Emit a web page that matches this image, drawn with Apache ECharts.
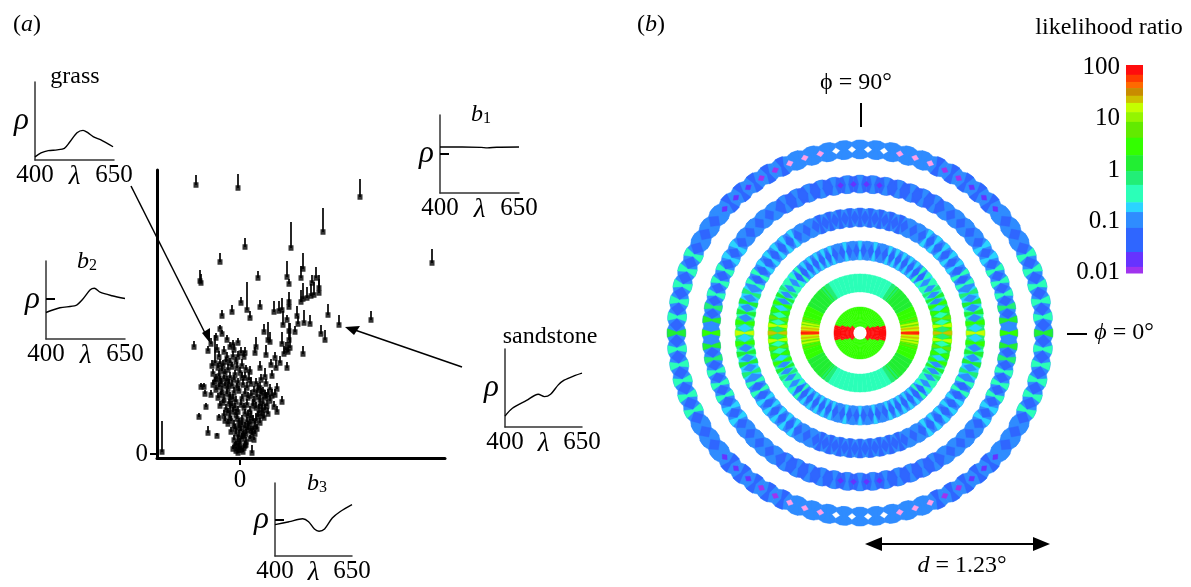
<!DOCTYPE html>
<html><head><meta charset="utf-8">
<style>html,body{margin:0;padding:0;background:#fff}#c{width:1191px;height:587px}</style>
<script src="https://cdn.jsdelivr.net/npm/echarts@6/dist/echarts.min.js"></script>
</head><body><div id="c"></div>
<script>
// ---- panel (a): [b3, b1, stem length] ----
const pointsUpper = [[-44,269,10],[-2,266,14],[120,257,18],[83,222,24],[51,206,26],[5,207,9],[-20,192,9],[192,191,14],[-40,173,11],[-39,171,9],[18,176,7],[47,177,16],[49,170,5],[61,176,12],[63,185,16],[76,176,11],[72,171,8],[79,166,13],[79,161,14],[74,159,13],[71,158,12],[67,156,11],[61,152,12],[63,155,16],[49,152,10],[49,147,8],[42,144,12],[39,143,10],[34,142,11],[7,144,28],[10,136,7],[1,151,6],[-8,142,7],[-18,138,6],[20,147,7],[88,139,11],[99,129,10],[131,134,9],[70,130,9],[64,131,13],[57,138,10],[58,130,8],[47,134,5],[43,129,14],[55,122,6],[24,122,8],[49,123,8],[28,114,18],[30,112,10],[81,120,9],[85,114,10],[49,114,10],[42,110,12],[50,106,25],[48,102,10],[46,104,8],[44,100,8],[16,107,10],[63,100,8],[26,99,10],[15,101,6],[35,96,6]];
const pointsMiddle = [[47,86,6],[36,86,8],[40,91,7],[31,89,6],[32,78,6],[25,77,9],[20,86,7],[10,82,6],[9,74,8],[21,74,6],[-46,107,6],[-29,110,6],[-20,125,4],[-18,120,4],[-24,116,5],[-13,114,5],[-7,109,5],[-10,107,5],[-2,111,5],[-32,103,5],[-23,104,6],[-16,102,6],[-6,104,6],[1,101,6],[5,101,6],[-21,97,6],[-13,96,6],[-7,97,6],[-2,97,6],[4,97,6],[-28,88,6],[-22,86,5],[-17,88,6],[-12,84,6],[-8,87,5],[-3,86,6],[2,88,7],[6,84,5],[-25,91,28],[-27,80,5],[-21,78,6],[-15,80,5],[-10,76,6],[-5,79,5],[0,81,6],[5,76,6],[-18,83,5],[-24,75,5],[-25,72,5],[-19,70,6],[-13,73,5],[-8,68,6],[-2,71,5],[3,69,6],[-16,75,4],[-6,74,5],[-24,64,5],[-18,62,6],[-12,65,5],[-6,61,6],[-1,63,5],[7,66,6],[14,62,6],[20,66,6],[26,70,5],[30,64,6],[-21,67,4],[-15,68,4],[11,70,7],[16,70,6],[23,62,5],[28,59,6],[-39,67,4],[-36,67,4],[-35,60,4],[-29,59,5],[-27,69,5],[37,65,6],[35,59,6],[42,52,6],[34,47,6],[37,42,6],[-20,90,5],[-10,91,5],[-4,92,5],[-14,92,5],[-20,73,5],[-11,70,5],[-3,66,5],[2,76,6],[26,56,6],[32,58,7],[21,60,6],[18,64,7]];
const pointsLower = [[-22,56,5],[-16,54,6],[-10,57,5],[-4,52,6],[2,55,5],[8,56,6],[14,52,6],[20,54,5],[25,58,6],[30,53,6],[-19,59,4],[-13,60,5],[-7,55,5],[5,60,6],[11,58,6],[17,57,7],[23,50,7],[-34,47,4],[-41,37,4],[-32,21,7],[-23,18,3],[-21,36,4],[-20,48,5],[-14,44,6],[-8,48,5],[-2,42,6],[4,46,5],[10,42,6],[16,46,6],[22,44,6],[27,48,6],[-17,51,4],[-11,50,5],[-5,46,5],[1,49,6],[7,49,6],[13,48,7],[19,41,9],[-16,38,6],[-10,36,24],[-4,39,6],[2,34,5],[8,38,6],[13,33,6],[18,37,6],[24,36,6],[-12,41,5],[-7,42,5],[5,40,5],[11,36,7],[-12,30,5],[-6,28,6],[-1,31,5],[5,26,6],[10,30,5],[15,27,6],[20,31,5],[-9,33,5],[2,29,5],[7,32,5],[13,24,4],[-9,22,5],[-4,20,6],[1,23,5],[6,20,5],[11,23,5],[15,20,4],[17,25,5],[-5,25,5],[3,18,5],[8,24,5],[-6,14,5],[-2,12,7],[2,15,6],[6,12,5],[10,15,4],[14,14,3],[-1,17,7],[4,18,6],[0,10,6],[-7,5,4],[-4,3,4],[-1,7,4],[1,4,4],[4,6,4],[6,9,3],[-5,8,4],[-2,1,4],[3,2,4],[-4,9,4],[-1,4,4],[12,1,8],[5,8,5],[-78,2,31],[-15,33,5],[-3,35,5],[8,28,5],[12,19,5],[-1,26,5],[22,38,6],[25,44,6],[28,40,6],[16,33,8],[20,48,7]];
const curveGrass = [[400,.04],[419,.09],[442,.12],[470,.13],[493,.15],[510,.23],[533,.35],[552,.38],[567,.35],[584,.30],[607,.26],[647,.17]];
const curveB1 = [[400,.59],[470,.59],[530,.585],[550,.578],[580,.587],[650,.59]];
const curveB2 = [[400,.34],[444,.40],[495,.43],[514,.50],[540,.63],[553,.65],[571,.60],[609,.555],[650,.52]];
const curveSand = [[400,.14],[424,.24],[470,.34],[508,.42],[528,.39],[548,.42],[573,.54],[592,.60],[624,.655],[650,.69]];
const curveB3 = [[400,.43],[446,.47],[490,.51],[509,.47],[528,.37],[543,.34],[561,.37],[586,.52],[612,.61],[650,.705]];
const meanB1 = .5, meanB2 = .51, meanB3 = .49;
const xTicks = [400,650];

// ---- panel (b): log10 likelihood ratio per ring, 0..90 deg at 5 deg steps ----
const ringInner = [.022,.035,.048,.064,.131,.233,.338,.446,.555];
const ringOuter = [.035,.048,.064,.083,.188,.293,.398,.503,.615];
const ringScallop = [0,0,0,0,0,.001,.003,.005,.007];
const ring0aBase = [1.95,1.95,1.95,1.95,1.95,1.95,1.95,1.95,1.95,.45,.45,.45,.45,.45,.45,.45,.45,.45,.45];
const ring0bBase = [1.95,1.95,1.95,1.95,1.95,1.95,.45,.45,.45,.45,.4,.4,.45,.45,.45,.45,.45,.45,.45];
const ring0cBase = [1.95,1.95,1.95,1.95,1.95,.45,.45,.45,.4,.4,.4,.4,.45,.45,.45,.45,.45,.45,.45];
const ring0dBase = [1.95,1.95,1.95,1.95,.45,.45,.4,.4,.4,.35,.35,.35,.4,.4,.45,.45,.45,.45,.45];
const ring1Base = [1.7,1.2,.8,.6,.4,.3,.2,.15,.15,.1,0,-.1,-.3,-.4,-.45,-.45,-.45,-.45,-.45];
const ring1Stripe = [1.9,1.4,1.2,.8,.5,.4,.2,.1,.1,0,-.1,-.2,-.35,-.45,-.45,-.45,-.45,-.45,-.45];
const ring2Base = [.7,.4,.2,.1,-.1,-.3,-.45,-.5,-.7,-.9,-.9,-.9,-.95,-1,-1,-1,-1,-1,-1];
const ring2Stripe = [1.4,1.2,.8,.5,.3,.1,-.1,-.3,-.45,-.45,-.7,-.7,-.7,-.7,-.7,-.9,-.7,-.9,-.7];
const ring2Diamond = [-.2,-.3,-.45,-.7,-.9,-.9,-1,-1,-1.35,-1.35,-1.35,-1.35,-1.35,-1.35,-1.35,-1.35,-1.35,-1.35];
const ring3Base = [-.1,-.2,-.45,-.7,-.7,-.9,-1,-1,-1,-1,-1,-1,-1,-1,-1,-1,-1,-1,-1];
const ring3Stripe = [1.2,.5,.2,0,-.2,-.45,-.45,-.7,-.7,-.7,-.75,-.75,-.9,-.9,-1.3,-1.3,-1.3,-1.3,-1.3];
const ring3Diamond = [-.7,-.9,-1,-1,-1,-1.35,-1.35,-1.35,-1.35,-1.35,-1.35,-1.35,-1.35,-1.35,-1.35,-1.35,-1.35,-1.35];
const ring4Base = [-.9,-.9,-.9,-1,-1,-1,-1,-1,-1,-1,-1,-1,-1.2,-1.2,-1.2,-1.2,-1.2,-1.2,-1.2];
const ring4Stripe = [.6,.15,-.15,-.45,-.45,-.45,-.7,-.7,-.9,-.9,-1,-1,-1,-1,-.9,-.9,-.9,-.9,-.9];
const ring4Diamond = [-1,-1.35,-1.35,-1.35,-1.35,-1.35,-1.35,-1.35,-1.35,-1.35,-1.35,-1.35,-1.35,-1.35,-1.35,-1.5,-1.7,-1.7];
const ring5Base = [-1,-1,-1,-1,-1,-1,-1,-1,-1,-1,-1,-1,-1,-1,-1,-1,-1,-1,-1];
const ring5Stripe = [.15,-.3,-.45,-.45,-.45,-.5,-.9,-.9,-.9,-1.3,-1.3,-1.3,-1.3,-1.3,-.9,-.9,-.9,-.9,-.9];
const ring5Diamond = [-1.35,-1.35,-1.35,-1.35,-1.35,-1.35,-1.35,-1.35,-1.75,-1.75,-1.75,-1.95,-1.95,-2.3,-2.3,-2.3,-2.6,-2.6];
const ringBase = [ring0aBase,ring0bBase,ring0cBase,ring0dBase,ring1Base,ring2Base,ring3Base,ring4Base,ring5Base];
const ringStripe = [null,null,null,null,ring1Stripe,ring2Stripe,ring3Stripe,ring4Stripe,ring5Stripe];
const ringDiamond = [null,null,null,null,null,ring2Diamond,ring3Diamond,ring4Diamond,ring5Diamond];

// ---- colour bar: band upper edge, lower edge, colour (log10) ----
const bandTop = [2.05,1.86,1.72,1.6,1.45,1.31,1.13,.94,.63,.29,-.02,-.29,-.63,-.82,-1.13,-1.6,-1.89];
const bandBottom = [1.86,1.72,1.6,1.45,1.31,1.13,.94,.63,.29,-.02,-.29,-.63,-.82,-1.13,-1.6,-1.89,-2.01];
const bandColor = ['#ff0d0d','#ff3c00','#ff6a00','#c98c00','#cfc000','#c4ff00','#94f500','#62ea00','#33ff00','#22ee33','#22ee77','#2bffb8','#2bd4ff','#2f8cff','#2f66ff','#6633ff','#a033ee'];
const barTicks = [-2,-1,0,1,2];
const barTickLabels = ['0.01','0.1','1','10','100'];

const SERIF = '"Liberation Serif","Times New Roman",serif';
const LBL = 25, TXT = 24;
const black = '#000';

const insets = [
  {l:35,t:82,w:79,h:78,curve:curveGrass,mean:null},
  {l:440,t:115,w:79,h:78,curve:curveB1,mean:meanB1},
  {l:46,t:261,w:79,h:78,curve:curveB2,mean:meanB2},
  {l:505,t:349,w:77,h:78,curve:curveSand,mean:null},
  {l:275,t:483,w:77,h:78,curve:curveB3,mean:meanB3}
];
const grid=[{left:157,top:170,width:288,height:288},{left:1126,top:65,width:17,height:208}];
const xAxis=[
 {gridIndex:0,type:'value',min:-83,max:205,position:'bottom',splitLine:{show:false},
  axisLine:{onZero:false,lineStyle:{color:black,width:3}},
  axisTick:{customValues:[0],length:7,lineStyle:{color:black,width:2}},
  axisLabel:{customValues:[0],color:black,fontFamily:SERIF,fontSize:LBL,margin:10}},
 {gridIndex:1,type:'value',min:0,max:1,show:false}
];
const yAxis=[
 {gridIndex:0,type:'value',min:-4,max:284,position:'left',splitLine:{show:false},
  axisLine:{onZero:false,lineStyle:{color:black,width:3}},
  axisTick:{customValues:[0],length:7,lineStyle:{color:black,width:2}},
  axisLabel:{customValues:[0],color:black,fontFamily:SERIF,fontSize:LBL,margin:9}},
 {gridIndex:1,type:'value',min:-2.01,max:2.05,splitLine:{show:false},axisLine:{show:false},axisTick:{show:false},
  axisLabel:{customValues:barTicks,formatter:v=>barTickLabels[barTicks.indexOf(v)],color:black,fontFamily:SERIF,fontSize:LBL,margin:6}}
];
const allPoints = pointsUpper.concat(pointsMiddle,pointsLower);
const series=[
 {type:'custom',xAxisIndex:0,yAxisIndex:0,data:allPoints,clip:false,silent:true,encode:{x:0,y:1},
  renderItem:(p,api)=>{const a=api.coord([api.value(0),api.value(1)]),b=api.coord([api.value(0),api.value(1)+api.value(2)]);
    return {type:'line',shape:{x1:a[0],y1:a[1],x2:b[0],y2:b[1]},style:{stroke:black,lineWidth:1.7}};}},
 {type:'scatter',xAxisIndex:0,yAxisIndex:0,data:allPoints,symbol:'rect',symbolSize:[5,5.5],itemStyle:{color:black},silent:true,clip:false},
 {type:'custom',xAxisIndex:1,yAxisIndex:1,silent:true,data:bandTop.map((t,i)=>[t,bandBottom[i],i]),encode:{y:[0,1]},
  renderItem:(p,api)=>{const a=api.coord([0,api.value(0)]),b=api.coord([1,api.value(1)]);
    return {type:'rect',shape:{x:a[0],y:a[1],width:b[0]-a[0],height:b[1]-a[1]+.5},style:{fill:bandColor[api.value(2)]}};}}
];
insets.forEach((s,i)=>{
  const g=grid.length;
  grid.push({left:s.l,top:s.t,width:s.w,height:s.h});
  xAxis.push({gridIndex:g,type:'value',min:400,max:650,name:'λ',nameLocation:'middle',nameGap:3,nameMoveOverlap:false,
    nameTextStyle:{fontFamily:SERIF,fontStyle:'italic',fontSize:LBL+2,color:black},splitLine:{show:false},
    axisLine:{onZero:false,lineStyle:{color:'#333',width:1.5}},axisTick:{show:false},
    axisLabel:{customValues:xTicks,color:black,fontFamily:SERIF,fontSize:LBL,margin:3,hideOverlap:false}});
  yAxis.push({gridIndex:g,type:'value',min:0,max:1,name:'ρ',nameLocation:'middle',nameRotate:0,nameGap:6,nameMoveOverlap:false,
    nameTextStyle:{fontFamily:SERIF,fontStyle:'italic',fontSize:31,color:black},splitLine:{show:false},
    axisLine:{onZero:false,lineStyle:{color:'#333',width:1.5}},
    axisTick:s.mean===null?{show:false}:{customValues:[s.mean],inside:true,length:9,lineStyle:{color:black,width:2}},
    axisLabel:{show:false}});
  series.push({type:'line',xAxisIndex:g,yAxisIndex:g,data:s.curve,smooth:.3,showSymbol:false,silent:true,
    lineStyle:{color:black,width:1.4}});
});

// rings
const quad = a => a<=90 ? a/5 : a<=180 ? (180-a)/5 : a<=270 ? (a-180)/5 : (360-a)/5;
const baseRows=[],stripeRows=[],diamondRows=[];
for(let k=0;k<ringBase.length;k++){
  const rm=(ringInner[k]+ringOuter[k])/2;
  for(let a=0;a<360;a+=5){
    const i=quad(a);
    baseRows.push([rm,a,ringBase[k][i],k]);
    if(ringStripe[k]) stripeRows.push([rm,a,ringStripe[k][i],k]);
    if(ringDiamond[k]){
      const c=a+2.5, j=c<90?Math.floor(c/5):c<180?Math.floor((180-c)/5):c<270?Math.floor((c-180)/5):Math.floor((360-c)/5);
      diamondRows.push([rm,c,ringDiamond[k][j],k]);
    }
  }
}
function poly(api,pts,color){
  return {type:'polygon',shape:{points:pts.map(p=>{const c=api.coord([p[0],p[1]]);return [c[0],c[1]];})},
    style:{fill:color,stroke:color,lineWidth:.4}};
}
const renderBase=(p,api)=>{
  const k=api.value(3),a=api.value(1),ri=ringInner[k],ro=ringOuter[k],d=ringScallop[k],N=6,out=[],inn=[];
  for(let t=-N;t<=N;t++){const u=t/N;out.push([ro-d*u*u,a+2.55*u]);inn.unshift([ri+d*u*u,a+2.55*u]);}
  return poly(api,out.concat(inn),api.visual('color'));
};
const renderStripe=(p,api)=>{
  const k=api.value(3),a=api.value(1),ri=ringInner[k],ro=ringOuter[k],rm=(ri+ro)/2,d=ringScallop[k]*.1;
  const ew=k<5?.7:1.25, mw=k<5?.7:.4;
  return poly(api,[[ro-d,a-ew],[ro-d,a+ew],[rm,a+mw],[ri+d,a+ew],[ri+d,a-ew],[rm,a-mw]],api.visual('color'));
};
const renderDiamond=(p,api)=>{
  const k=api.value(3),a=api.value(1),v=api.value(2),ri=ringInner[k],ro=ringOuter[k],rm=(ri+ro)/2;
  const small=v<-1.6, h=(ro-ri)*(small?.16:.36), w=small?1.15:2;
  return poly(api,[[rm+h,a],[rm,a+w],[rm-h,a],[rm,a-w]],api.visual('color'));
};
const ringSeriesStart=series.length;
[[baseRows,renderBase],[stripeRows,renderStripe],[diamondRows,renderDiamond]].forEach(r=>{
  series.push({type:'custom',coordinateSystem:'polar',data:r[0],renderItem:r[1],silent:true,clip:false,
    dimensions:['r','a','v','k'],encode:{radius:0,angle:1,value:2},animation:false});
});
const pieces=bandTop.map((t,i)=>({min:bandBottom[i],max:t,color:bandColor[i]}));
pieces.push({min:-2.2,max:-2.01,color:'#d040f0'},{min:-2.45,max:-2.2,color:'#ff9fe8'},{min:-3,max:-2.45,color:'#fff'});

// annotations
const txt=(x,y,text,align,extra)=>Object.assign({type:'text',x,y,silent:true,style:Object.assign({text,fill:black,
  font:TXT+'px '+SERIF,textAlign:align||'center',textVerticalAlign:'middle'},extra||{})});
const subRich={i:{fontFamily:SERIF,fontStyle:'italic',fontSize:TXT,fill:black,color:black},s:{fontFamily:SERIF,fontSize:16,fill:black,color:black,padding:[8,0,0,0]},n:{fontFamily:SERIF,fontSize:TXT,fill:black,color:black}};
const rich={rich:subRich};
const ln=(x1,y1,x2,y2,w)=>({type:'line',silent:true,shape:{x1,y1,x2,y2},style:{stroke:black,lineWidth:w||1.5}});
const head=(pts)=>({type:'polygon',silent:true,shape:{points:pts},style:{fill:black}});
const graphic=[
 txt(13,25,'({i|a})','left',rich),
 txt(637,25,'({i|b})','left',rich),
 txt(75,77,'grass'),
 txt(481,115,'{i|b}{s|1}','center',rich),
 txt(87,262,'{i|b}{s|2}','center',rich),
 txt(550,337,'sandstone'),
 txt(317,484,'{i|b}{s|3}','center',rich),
 txt(1109,28,'likelihood ratio'),
 txt(856,83,'ϕ = 90°'),
 txt(1124,333,'{i|ϕ}{n| = 0°}','center',rich),
 txt(962,566,'{i|d}{n| = 1.23°}','center',rich),
 ln(131,186,207,337),ln(462,367,352,329),
 head([[210,343],[202,333],[210,328]]),
 head([[345,327],[360,326],[354,335]]),
 ln(861,103,861,127,2),ln(1067,334,1087,334,2),
 ln(868,544,1047,544,2),
 head([[865,544],[882,537],[882,551]]),
 head([[1050,544],[1033,537],[1033,551]])
];

const chart=echarts.init(document.getElementById('c'),null,{renderer:'canvas'});
chart.setOption({animation:false,backgroundColor:'#fff',tooltip:{show:false},
  grid,xAxis,yAxis,series,
  polar:{center:[860,333],radius:193},
  radiusAxis:{min:0,max:.615,show:false,axisLine:{show:false},axisTick:{show:false},axisLabel:{show:false},splitLine:{show:false}},
  angleAxis:{min:0,max:360,startAngle:0,clockwise:false,show:false,axisLine:{show:false},axisTick:{show:false},axisLabel:{show:false},splitLine:{show:false}},
  visualMap:{type:'piecewise',show:false,dimension:2,seriesIndex:[ringSeriesStart,ringSeriesStart+1,ringSeriesStart+2],pieces,outOfRange:{color:'#fff'}},
  graphic
});
</script></body></html>
